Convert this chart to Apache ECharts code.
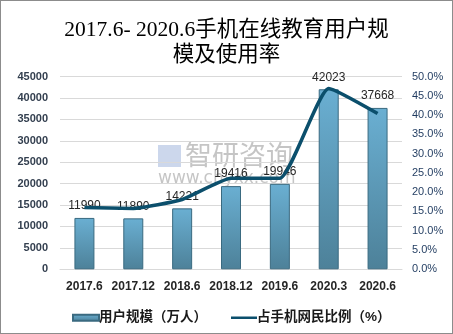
<!DOCTYPE html>
<html><head><meta charset="utf-8">
<script src="https://cdn.jsdelivr.net/npm/echarts@6/dist/echarts.min.js"></script>
<style>
html,body{margin:0;padding:0;background:#fff;}
#wrap{position:absolute;left:0;top:0;width:453px;height:334px;box-sizing:border-box;border:1px solid #8c8c8c;}
#c{position:absolute;left:0;top:0;width:453px;height:334px;}
</style></head>
<body><div id="wrap"></div><div id="c"></div>
<script>
var titleLines = ['2017.6- 2020.6手机在线教育用户规', '模及使用率'];
var categories = ['2017.6','2017.12','2018.6','2018.12','2019.6','2020.3','2020.6'];
var users = [11990, 11890, 14221, 19416, 19946, 42023, 37668];
var rate = [0.160, 0.158, 0.181, 0.236, 0.236, 0.469, 0.404];
var leftTicks = {min:0, max:45000, interval:5000};
var rightTicks = {min:0, max:0.5, interval:0.05};
var seriesNames = ['用户规模（万人）','占手机网民比例（%）'];

var chart = echarts.init(document.getElementById('c'), null, {renderer:'canvas'});
var labelFont = 'Liberation Sans, Arial, Noto Sans CJK SC, sans-serif';
chart.setOption({
  animation:false,
  title:{
    text:titleLines.join('\n'),
    left:'center', top:13,
    textStyle:{fontFamily:'Liberation Serif, Noto Sans CJK SC, serif', fontSize:21.5, fontWeight:'normal', color:'#000', lineHeight:25}
  },
  grid:{left:60, right:51, top:76.5, bottom:64.7, containLabel:false},
  legend:{
    top:306, left:67, itemGap:24, itemWidth:26, itemHeight:6,
    textStyle:{fontFamily:labelFont, fontSize:13.5, fontWeight:'bold', color:'#1a1a1a', padding:[0,0,0,-5]},
    data:[
      {name:seriesNames[0], icon:'rect'},
      {name:seriesNames[1], icon:'path://M0,2 L26,2 L26,4.5 L0,4.5 Z'}
    ]
  },
  xAxis:{
    type:'category', data:categories,
    axisLine:{show:true, lineStyle:{color:'#d9d9d9'}},
    axisTick:{show:false},
    axisLabel:{margin:11, fontFamily:labelFont, fontSize:12, fontWeight:'bold', color:'#262626', interval:0}
  },
  yAxis:[
    {type:'value', min:leftTicks.min, max:leftTicks.max, interval:leftTicks.interval,
     axisLine:{show:false}, axisTick:{show:false},
     axisLabel:{margin:12, fontFamily:labelFont, fontSize:11, fontWeight:'bold', color:'#333f4f',
       formatter:function(v){return String(v);}},
     splitLine:{lineStyle:{color:'#d9d9d9'}}},
    {type:'value', min:rightTicks.min, max:rightTicks.max, interval:rightTicks.interval,
     axisLine:{show:false}, axisTick:{show:false}, splitLine:{show:false},
     axisLabel:{margin:10, fontFamily:labelFont, fontSize:11, color:'#1f3a5f',
       formatter:function(v){return (v*100).toFixed(1)+'%';}}}
  ],
  graphic:[
    {type:'rect', left:158, top:145, z:0, shape:{width:23,height:22},
     style:{fill:'rgba(110,140,200,0.35)'}},
    {type:'text', left:185, top:141, z:0,
     style:{text:'智研咨询', font:'27px "Noto Sans CJK SC", sans-serif', fill:'rgba(110,110,110,0.4)'}},
    {type:'text', left:158, top:170, z:0,
     style:{text:'www.chyxx.com', font:'17px "DejaVu Sans", sans-serif', fill:'rgba(110,110,110,0.4)'}}
  ],
  series:[
    {name:seriesNames[0], type:'bar', data:users, barWidth:20, yAxisIndex:0,
     itemStyle:{
       color:{type:'linear', x:0, y:0, x2:0, y2:1, colorStops:[
         {offset:0, color:'#6aafd2'}, {offset:1, color:'#4d8199'}]},
       borderColor:'#3a6a80', borderWidth:1
     },
     label:{show:true, position:'top', distance:6, fontFamily:labelFont, fontSize:12, color:'#262626'}
    },
    {name:seriesNames[1], type:'line', data:rate, yAxisIndex:1, smooth:0.15,
     showSymbol:false, symbol:'none',
     lineStyle:{color:'#0b4f6c', width:3.5},
     itemStyle:{color:'#0b4f6c'}, z:3
    }
  ]
});
</script>
</body></html>
